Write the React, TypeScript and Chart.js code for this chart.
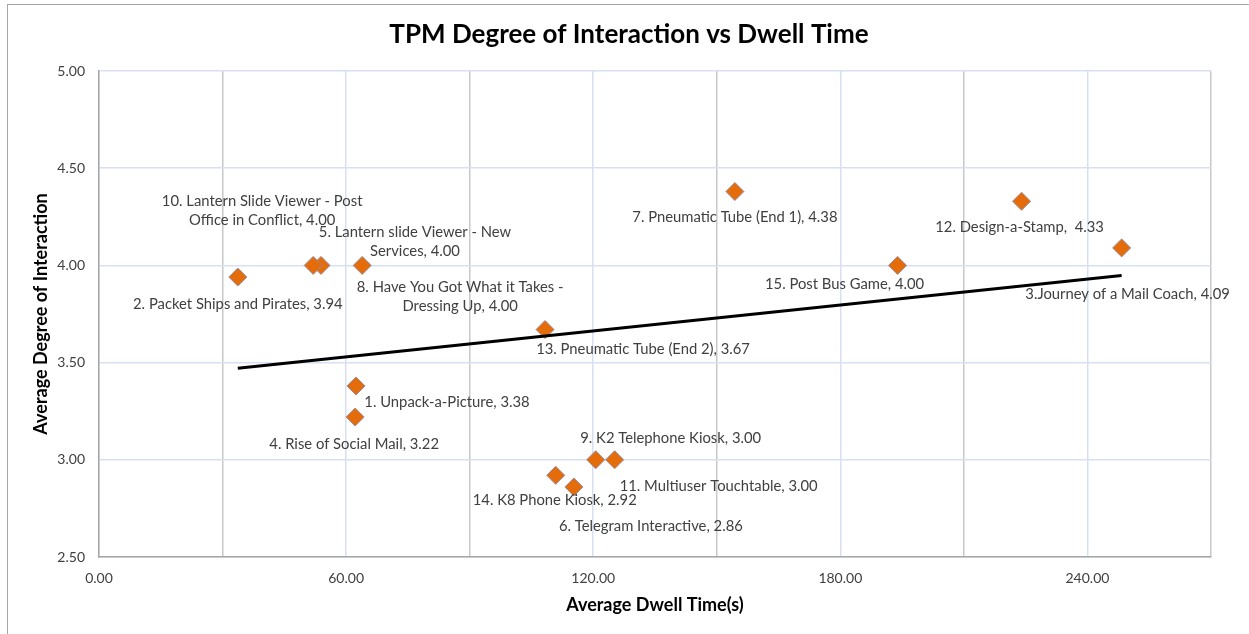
import React, { useEffect, useRef } from "react";
import { Chart, registerables } from "chart.js";

Chart.register(...registerables);

// ---- Data ----
const exhibitLabels: string[][] = [
  ["1. Unpack-a-Picture, 3.38"],
  ["2. Packet Ships and Pirates, 3.94"],
  ["3.Journey of a Mail Coach, 4.09"],
  ["4. Rise of Social Mail, 3.22"],
  ["5. Lantern slide Viewer - New", "Services, 4.00"],
  ["6. Telegram Interactive, 2.86"],
  ["7. Pneumatic Tube (End 1), 4.38"],
  ["8. Have You Got What it Takes -", "Dressing Up, 4.00"],
  ["9. K2 Telephone Kiosk, 3.00"],
  ["10. Lantern Slide Viewer - Post", "Office in Conflict, 4.00"],
  ["11. Multiuser Touchtable, 3.00"],
  ["12. Design-a-Stamp,  4.33"],
  ["13. Pneumatic Tube (End 2), 3.67"],
  ["14. K8 Phone Kiosk, 2.92"],
  ["15. Post Bus Game, 4.00"],
];
const dwellTime: number[] = [62.4, 33.7, 248.3, 62.2, 53.9, 115.3, 154.4, 63.9, 120.6, 52.0, 125.2, 224.0, 108.3, 110.9, 193.9];
const interaction: number[] = [3.38, 3.94, 4.09, 3.22, 4.0, 2.86, 4.38, 4.0, 3.0, 4.0, 3.0, 4.33, 3.67, 2.92, 4.0];
const yTicks: number[] = [2.5, 3.0, 3.5, 4.0, 4.5, 5.0];
const xTickStep = 30;
const xLabelStep = 60;

// label placement offsets (px) relative to each marker: [dx of text centre, dy of first line centre]
const labelOffsets: [number, number][] = [
  [91, 16], [0, 27], [6, 46], [-1, 27], [94, -33], [77, 39], [0, 26], [98, 22],
  [75, -22], [-51, -64], [104, 26], [-2, 26], [98, 20], [-1, 25], [-53, 19],
];

const FONT = "Lato, 'Noto Sans', sans-serif";
const TEXT = "#404040";

function regression(xs: number[], ys: number[]) {
  const n = xs.length;
  const mx = xs.reduce((a, b) => a + b, 0) / n;
  const my = ys.reduce((a, b) => a + b, 0) / n;
  let sxy = 0, sxx = 0;
  for (let i = 0; i < n; i++) {
    sxy += (xs[i] - mx) * (ys[i] - my);
    sxx += (xs[i] - mx) * (xs[i] - mx);
  }
  const slope = sxy / sxx;
  return { slope, intercept: my - slope * mx };
}

const decorPlugin = {
  id: "decor",
  beforeDraw(chart: any) {
    const ctx = chart.ctx;
    ctx.save();
    ctx.fillStyle = "#ffffff";
    ctx.fillRect(0, 0, chart.width, chart.height);
    ctx.strokeStyle = "#a6a6a6";
    ctx.lineWidth = 1;
    ctx.strokeRect(7.5, 4.5, 1400, 800);
    ctx.restore();
  },
  afterDraw(chart: any) {
    const ctx = chart.ctx;
    const area = chart.chartArea;
    ctx.save();
    ctx.fillStyle = "#000000";
    ctx.textAlign = "center";
    ctx.textBaseline = "middle";
    ctx.font = `bold 26px ${FONT}`;
    ctx.fillText("TPM Degree of Interaction vs Dwell Time", 629, 35);

    ctx.font = `bold 18px ${FONT}`;
    ctx.fillText("Average Dwell Time(s)", (area.left + area.right) / 2, 605);
    ctx.save();
    ctx.translate(41, (area.top + area.bottom) / 2);
    ctx.rotate(-Math.PI / 2);
    ctx.fillText("Average Degree of Interaction", 0, 0);
    ctx.restore();

    // data labels
    const meta = chart.getDatasetMeta(1);
    ctx.font = `14.8px ${FONT}`;
    ctx.fillStyle = TEXT;
    meta.data.forEach((pt: any, i: number) => {
      const [dx, dy] = labelOffsets[i];
      exhibitLabels[i].forEach((line, j) => {
        ctx.fillText(line, pt.x + dx, pt.y + dy + j * 19);
      });
    });
    ctx.restore();
  },
};

export default function App() {
  const ref = useRef<HTMLCanvasElement | null>(null);
  useEffect(() => {
    if (!ref.current) return;
    const { slope, intercept } = regression(dwellTime, interaction);
    const minX = Math.min(...dwellTime);
    const maxX = Math.max(...dwellTime);
    const trend = [
      { x: minX, y: intercept + slope * minX },
      { x: maxX, y: intercept + slope * maxX },
    ];
    const points = dwellTime.map((x, i) => ({ x, y: interaction[i] }));
    const chart = new Chart(ref.current, {
      type: "scatter",
      data: {
        datasets: [
          {
            type: "line",
            label: "Trend",
            data: trend,
            borderColor: "#000000",
            borderWidth: 3,
            pointRadius: 0,
            fill: false,
            order: 0,
          } as any,
          {
            label: "Exhibits",
            data: points,
            pointStyle: "rectRot",
            pointRadius: 9,
            pointBackgroundColor: "#E46C0A",
            pointBorderColor: "#9a8a9a",
            pointBorderWidth: 1,
            order: 1,
          },
        ],
      },
      options: {
        responsive: false,
        animation: false,
        devicePixelRatio: 1,
        layout: { padding: { top: 71, right: 38, left: 0, bottom: 0 } },
        plugins: { legend: { display: false }, tooltip: { enabled: false }, title: { display: false } },
        scales: {
          x: {
            type: "linear",
            min: 0,
            max: 270,
            afterFit: (s: any) => { s.height = 77; },
            ticks: {
              stepSize: xTickStep,
              autoSkip: false,
              maxRotation: 0,
              padding: 13,
              color: TEXT,
              font: { family: FONT, size: 14 },
              callback: (v: any) => (Number(v) % xLabelStep === 0 ? Number(v).toFixed(2) : ""),
            },
            grid: {
              drawTicks: false,
              lineWidth: 1.5,
              color: (c: any) => (c.tick && c.tick.value % xLabelStep === 0 ? "#d6e0f2" : "#c8c8c8"),
            },
            border: { display: true, color: "#a6a6a6", width: 1.5 },
          },
          y: {
            type: "linear",
            min: yTicks[0],
            max: yTicks[yTicks.length - 1],
            afterFit: (s: any) => { s.width = 99; },
            afterBuildTicks: (s: any) => { s.ticks = yTicks.map((v) => ({ value: v })); },
            ticks: {
              padding: 14,
              color: TEXT,
              font: { family: FONT, size: 14 },
              callback: (v: any) => Number(v).toFixed(2),
            },
            grid: { drawTicks: false, lineWidth: 1.5, color: "#d6e0f2" },
            border: { display: true, color: "#a6a6a6", width: 1.5 },
          },
        },
      },
      plugins: [decorPlugin],
    });
    return () => chart.destroy();
  }, []);
  return (
    <div style={{ position: "absolute", left: 0, top: 0, width: 1249, height: 634 }}>
      <canvas ref={ref} width={1249} height={634} style={{ display: "block" }} />
    </div>
  );
}
